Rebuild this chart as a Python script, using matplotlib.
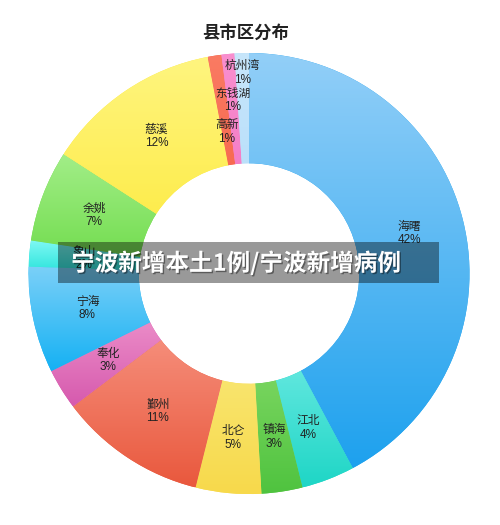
import numpy as np
import matplotlib
matplotlib.use("Agg")
import matplotlib.pyplot as plt
from matplotlib.colors import LinearSegmentedColormap
import matplotlib.patheffects as pe

plt.rcParams['font.family'] = ['Noto Sans CJK SC', 'DejaVu Sans']

districts = ["海曙", "江北", "镇海", "北仑", "鄞州", "奉化", "宁海",
             "象山", "余姚", "慈溪", "高新", "东钱湖", "杭州湾"]
# slice sizes as measured off the ring (percent)
shares = [42.2, 3.9, 3.0, 4.8, 10.8, 3.0, 7.8, 1.9, 6.7, 12.9, 1.0, 0.95, 1.05]
pct_labels = ["42%", "4%", "3%", "5%", "11%", "3%", "8%",
              "2%", "7%", "12%", "1%", "1%", "1%"]

# light (top) -> dark (bottom) for each slice
top_colors = ["#93cff8", "#97f5f2", "#9ee57b", "#fbf08e", "#fba595", "#f7a8d6", "#7bd0f8",
              "#7ff8f4", "#a2ee88", "#fff57f", "#fa7b63", "#f98fcf", "#c7e6fb"]
bottom_colors = ["#1da1ee", "#1ed6c6", "#4fc33f", "#f7d94b", "#e9583d", "#d65aae", "#15b1f3",
                 "#27e3da", "#6cda47", "#fde93a", "#f45a3f", "#f06ec0", "#afdaf9"]

# label radius (small slices near the top are staggered)
label_r = [0.75] * 10 + [0.65, 0.79, 0.91]

fig = plt.figure(figsize=(5, 5.25), dpi=100)
ax = fig.add_axes([0.057, 0.059, 0.882, 0.84])

wedges, _ = ax.pie(shares, startangle=90, counterclock=False, radius=1,
                   colors=bottom_colors,
                   wedgeprops=dict(width=0.5, linewidth=0))

grad = np.linspace(0, 1, 256).reshape(-1, 1)
for w, c1, c2 in zip(wedges, top_colors, bottom_colors):
    verts = w.get_path().vertices
    x0, y0 = verts.min(axis=0)
    x1, y1 = verts.max(axis=0)
    cmap = LinearSegmentedColormap.from_list("g", [c1, c2])
    im = ax.imshow(grad, cmap=cmap, extent=[x0, x1, y0, y1],
                   origin="upper", aspect="auto", interpolation="bilinear", zorder=2)
    im.set_clip_path(w)

for w, name, pct, r in zip(wedges, districts, pct_labels, label_r):
    ang = np.deg2rad((w.theta1 + w.theta2) / 2)
    ax.text(r * np.cos(ang), r * np.sin(ang), f"{name}\n{pct}",
            ha="center", va="center", fontsize=8.5, color="#222222",
            family=['Liberation Sans', 'Noto Sans CJK SC'],
            linespacing=1.15, zorder=3)

ax.set_xlim(-1, 1)
ax.set_ylim(-1, 1)
ax.set_aspect("equal")
ax.axis("off")

fig.text(0.492, 1 - 33 / 525, "县市区分布", ha="center", va="center",
         fontsize=12.5, fontweight="bold", color="#222222")

# overlay banner
fig.patches.append(plt.Rectangle((58 / 500, 1 - 283 / 525), 381 / 500, 41 / 525,
                                 transform=fig.transFigure, facecolor="black",
                                 alpha=0.4, edgecolor="none", zorder=5))
fig.text(71 / 500, 1 - 263 / 525, "宁波新增本土1例/宁波新增病例",
         ha="left", va="center", fontsize=17, fontweight="bold", color="white",
         zorder=6,
         path_effects=[pe.withSimplePatchShadow(offset=(1, -1), shadow_rgbFace="black", alpha=0.4)])

fig.savefig("out.png", dpi=100)
